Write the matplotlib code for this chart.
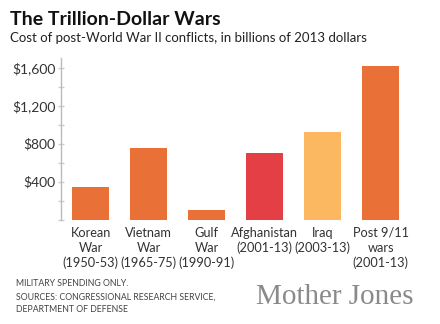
import matplotlib
matplotlib.use("Agg")
import matplotlib.pyplot as plt
from matplotlib.ticker import MultipleLocator, FuncFormatter

# Data (billions of 2013 dollars)
wars = ["Korean\nWar\n(1950-53)", "Vietnam\nWar\n(1965-75)", "Gulf\nWar\n(1990-91)",
        "Afghanistan\n(2001-13)", "Iraq\n(2003-13)", "Post 9/11\nwars\n(2001-13)"]
costs = [344, 754, 98, 698, 923, 1618]
bar_colors = ["#E97137", "#E97137", "#E97137", "#E43F44", "#FCB861", "#E97137"]

plt.rcParams['font.family'] = ['Lato', 'DejaVu Sans']

fig = plt.figure(figsize=(4.4, 3.24), dpi=100)
ax = fig.add_axes([61 / 440, 1 - 219.7 / 324, (420 - 61) / 440, 161.7 / 324])

x = list(range(len(wars)))
ax.bar(x, costs, width=0.64, color=bar_colors)

ax.set_xlim(-0.51, 5.68)
ax.set_ylim(0, 1700)

# Axis styling: only a light gray left spine with small ticks
for side in ['top', 'right', 'bottom']:
    ax.spines[side].set_visible(False)
ax.spines['left'].set_color('#BBBBBB')
ax.spines['left'].set_linewidth(1.0)

ax.yaxis.set_major_locator(MultipleLocator(400))
ax.yaxis.set_minor_locator(MultipleLocator(200))
ax.yaxis.set_major_formatter(FuncFormatter(lambda v, p: '' if v == 0 else f'${v:,.0f}'))
ax.tick_params(axis='y', which='both', direction='inout', length=4, width=1,
               color='#CCCCCC', labelsize=10, labelcolor='#333333', pad=2)

ax.set_xticks(x)
ax.set_xticklabels(wars, fontsize=9.2, color='#333333', linespacing=1.3)
ax.tick_params(axis='x', length=0, pad=5)

# Titles
fig.text(10 / 440, 1 - 11 / 324, "The Trillion-Dollar Wars", fontsize=14, fontweight='bold',
         color='#111111', va='top', ha='left')
fig.text(10 / 440, 1 - 32 / 324, "Cost of post-World War II conflicts, in billions of 2013 dollars",
         fontsize=9.5, color='#222222', va='top', ha='left')

# Footer
foot = dict(fontsize=6.3, color='#444444', va='center', ha='left')
fig.text(16 / 440, 1 - 284 / 324, "MILITARY SPENDING ONLY.", **foot)
fig.text(16 / 440, 1 - 297 / 324, "SOURCES: CONGRESSIONAL RESEARCH SERVICE,", **foot)
fig.text(16 / 440, 1 - 310 / 324, "DEPARTMENT OF DEFENSE", **foot)
fig.text(413 / 440, 1 - 297 / 324, "Mother Jones", fontsize=21, color='#8A8A8A',
         family='Liberation Serif', va='center', ha='right')

plt.savefig("out.png", dpi=100)
